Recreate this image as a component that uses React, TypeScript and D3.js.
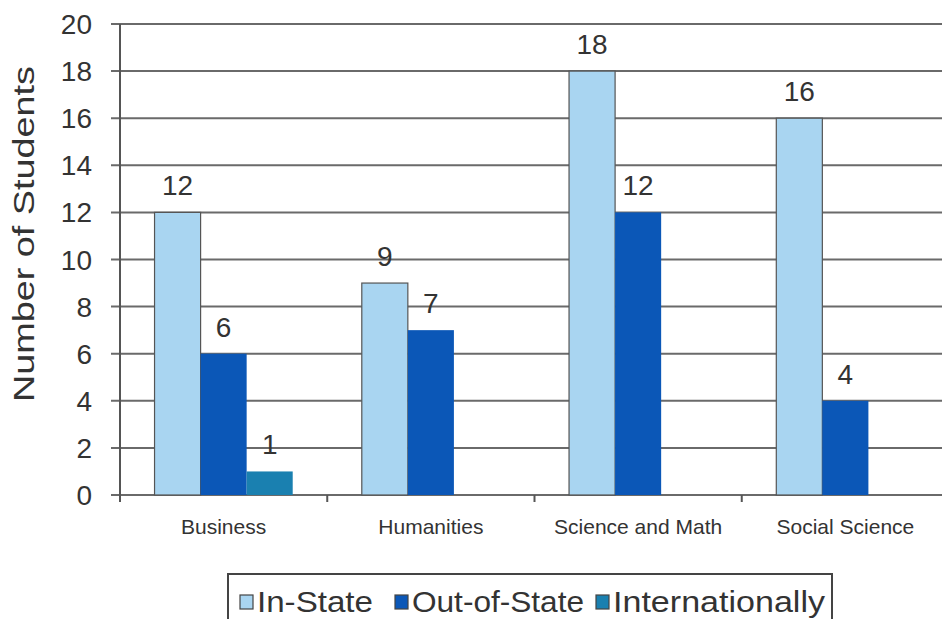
import React from "react";
import * as d3 from "d3";

const categories = ["Business", "Humanities", "Science and Math", "Social Science"];
const seriesNames = ["In-State", "Out-of-State", "Internationally"];
const inState = [12, 9, 18, 16];
const outOfState = [6, 7, 12, 4];
const internationally = [1, 0, 0, 0];
const yTicks = [0, 2, 4, 6, 8, 10, 12, 14, 16, 18, 20];
const colors = ["#a9d5f1", "#0b57b7", "#1a80b0"];

const W = 942, H = 619;
const left = 120, right = 949, top = 24, bottom = 495;
const FONT = "Liberation Sans, Arial, sans-serif";

export default function App() {
  const series = [inState, outOfState, internationally];
  const x = d3.scaleBand<string>().domain(categories).range([left, right]).paddingInner(0).paddingOuter(0);
  const inner = d3.scaleBand<string>().domain(seriesNames).range([0, x.bandwidth()]).paddingOuter(0.75).paddingInner(0);
  const y = d3.scaleLinear().domain([0, 20]).range([bottom, top]);
  const legendX = [240, 395, 596];
  const legendLen = [116, 172, 212];

  return (
    <svg width={W} height={H} style={{ position: "absolute", left: 0, top: 0, background: "#fff" }}>
      {yTicks.map((t) => (
        <g key={t}>
          <line x1={left - 9} x2={W} y1={y(t)} y2={y(t)} stroke="#6a6a6a" strokeWidth={2} />
          <text x={92} y={y(t) + 10} textAnchor="end" fontFamily={FONT} fontSize={28} fill="#333">{t}</text>
        </g>
      ))}
      <line x1={left} x2={left} y1={top} y2={bottom} stroke="#555" strokeWidth={2} />
      {categories.map((c, i) => (
        <line key={"tk" + i} x1={x(c)!} x2={x(c)!} y1={bottom} y2={bottom + 7} stroke="#555" strokeWidth={2} />
      ))}
      {categories.map((c, i) => (
        <g key={c}>
          {series.map((s, j) => {
            const v = s[i];
            if (!v) return null;
            const bx = x(c)! + inner(seriesNames[j])!;
            const bw = inner.bandwidth();
            return (
              <g key={j}>
                <rect x={bx} y={y(v)} width={bw} height={bottom - y(v)} fill={colors[j]} stroke={j === 0 ? "#555" : "none"} strokeWidth={j === 0 ? 1.2 : 0} />
                <text x={bx + bw / 2} y={y(v) - 17} textAnchor="middle" fontFamily={FONT} fontSize={28} fill="#333">{v}</text>
              </g>
            );
          })}
          <text x={x(c)! + x.bandwidth() / 2} y={534} textAnchor="middle" fontFamily={FONT} fontSize={21} fill="#333">{c}</text>
        </g>
      ))}
      <text transform={`translate(34,${234}) rotate(-90)`} textAnchor="middle" fontFamily={FONT} fontSize={30} fill="#333" textLength={336} lengthAdjust="spacingAndGlyphs">Number of Students</text>
      <rect x={228} y={574} width={604} height={60} fill="#fff" stroke="#444" strokeWidth={2} />
      {seriesNames.map((n, j) => {
        const sx = legendX[j];
        return (
          <g key={n}>
            <rect x={sx} y={595} width={13} height={14} fill={colors[j]} stroke="#444" strokeWidth={1.2} />
            <text x={sx + 17} y={612} fontFamily={FONT} fontSize={30} fill="#333" textLength={legendLen[j]} lengthAdjust="spacingAndGlyphs">{n}</text>
          </g>
        );
      })}
    </svg>
  );
}
